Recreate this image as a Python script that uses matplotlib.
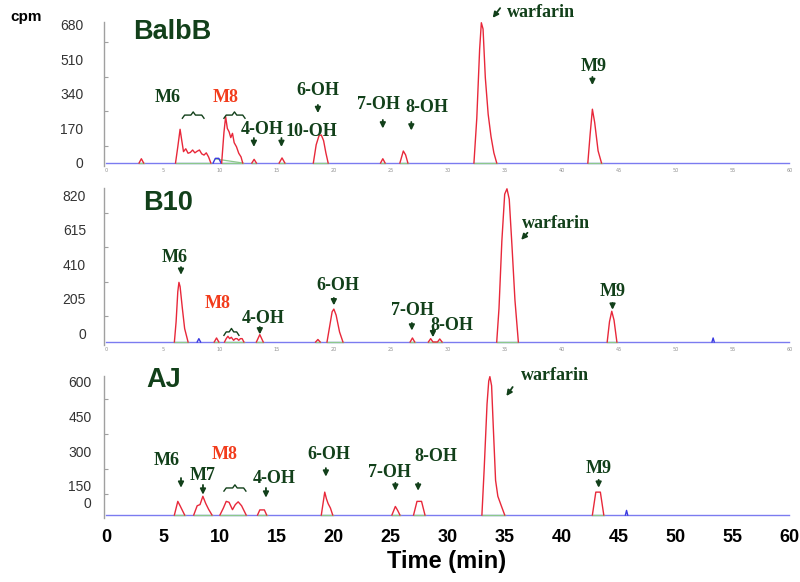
import numpy as np
import matplotlib
matplotlib.use("Agg")
import matplotlib.pyplot as plt

nan = np.nan

# --- радиохроматограммы: время (мин) / cpm, пики разделены nan ---
balbb_t = [2.9, 3.1, 3.3, nan,
           6.1, 6.3, 6.5, 6.65, 6.8, 7.0, 7.2, 7.4, 7.6, 7.8, 8.0, 8.2, 8.4, 8.6, 8.8, 9.0, 9.2, nan,
           10.15, 10.35, 10.5, 10.65, 10.8, 10.95, 11.1, 11.25, 11.45, 11.65, 11.85, 12.0, nan,
           12.8, 13.0, 13.2, nan,
           15.2, 15.45, 15.7, nan,
           18.2, 18.45, 18.7, 18.9, 19.1, 19.3, 19.5, nan,
           24.1, 24.3, 24.5, nan,
           25.8, 26.1, 26.3, 26.5, nan,
           32.3, 32.55, 32.8, 32.95, 33.1, 33.3, 33.55, 33.8, 34.05, 34.3, nan,
           42.3, 42.5, 42.7, 42.9, 43.2, 43.5]
balbb_cpm = [0, 21, 0, nan,
             0, 80, 166, 110, 56, 70, 48, 52, 64, 50, 58, 64, 45, 39, 50, 30, 0, nan,
             0, 150, 228, 170, 154, 125, 146, 100, 80, 48, 30, 0, nan,
             0, 18, 0, nan,
             0, 25, 0, nan,
             0, 90, 135, 138, 110, 50, 0, nan,
             0, 21, 0, nan,
             0, 59, 40, 0, nan,
             0, 220, 560, 691, 660, 420, 240, 130, 50, 0, nan,
             0, 140, 265, 200, 60, 0]
balbb_blue_t = [9.4, 9.6, 9.9, 10.1]
balbb_blue_cpm = [0, 23, 23, 0]
balbb_green_t = [9.6, 12.0]
balbb_green_cpm = [20, 0]

b10_t = [6.0, 6.15, 6.3, 6.4, 6.5, 6.7, 6.9, 7.2, nan,
         9.5, 9.7, 9.9, nan,
         10.4, 10.55, 10.7, 10.85, 11.0, 11.2, 11.35, 11.5, 11.65, 11.8, 11.95, 12.1, nan,
         13.2, 13.5, 13.8, nan,
         18.4, 18.6, 18.8, nan,
         19.4, 19.6, 19.85, 20.0, 20.2, 20.5, 20.8, nan,
         26.7, 26.9, 27.1, nan,
         28.3, 28.5, 28.7, 29.1, 29.3, 29.5, nan,
         34.3, 34.5, 34.75, 35.0, 35.2, 35.4, 35.65, 35.9, 36.2, nan,
         44.0, 44.2, 44.4, 44.6, 44.85]
b10_cpm = [0, 120, 300, 355, 330, 200, 80, 0, nan,
           0, 24, 0, nan,
           0, 20, 34, 20, 28, 10, 20, 20, 10, 20, 20, 0, nan,
           0, 44, 0, nan,
           0, 15, 0, nan,
           0, 80, 180, 196, 160, 60, 0, nan,
           0, 24, 0, nan,
           0, 20, 0, 0, 18, 0, nan,
           0, 200, 600, 880, 912, 850, 560, 250, 0, nan,
           0, 120, 183, 130, 0]
b10_blue_t = [8.0, 8.15, 8.3, nan, 53.2, 53.3, 53.4]
b10_blue_cpm = [0, 20, 0, nan, 0, 24, 0]

aj_t = [6.0, 6.3, 6.5, 6.9, nan,
        7.7, 8.0, 8.25, 8.5, 8.75, 9.0, 9.3, nan,
        10.0, 10.3, 10.55, 10.8, 11.1, 11.35, 11.6, 11.9, 12.3, nan,
        13.3, 13.5, 13.9, 14.1, nan,
        18.9, 19.2, 19.35, 19.5, 19.7, 19.9, nan,
        25.1, 25.4, 25.6, 25.8, nan,
        27.0, 27.3, 27.7, 28.0, nan,
        33.0, 33.2, 33.45, 33.6, 33.7, 33.85, 34.0, 34.2, 34.4, 34.7, 35.0, nan,
        42.7, 43.0, 43.4, 43.7]
aj_cpm = [0, 59, 40, 0, nan,
          0, 40, 45, 81, 50, 25, 0, nan,
          0, 30, 59, 55, 23, 45, 57, 40, 0, nan,
          0, 22, 22, 0, nan,
          0, 99, 70, 49, 30, 0, nan,
          0, 37, 20, 0, nan,
          0, 59, 59, 0, nan,
          0, 200, 480, 580, 599, 560, 380, 150, 81, 40, 0, nan,
          0, 99, 99, 0]
aj_blue_t = [45.6, 45.7, 45.8]
aj_blue_cpm = [0, 20, 0]

# подписи пиков: текст, x, y текста, стрелка (x0, y0 -> x1, y1) или None
balbb_labels = [
    ("M6", 5.44, 325, None),
    ("M8", 10.53, 325, None),
    ("4-OH", 13.7, 167, (12.98, 123, 12.98, 79)),
    ("10-OH", 18.07, 153, (15.4, 123, 15.4, 79)),
    ("6-OH", 18.6, 355, (18.6, 286, 18.6, 246)),
    ("7-OH", 23.9, 286, (24.3, 212, 24.3, 170)),
    ("8-OH", 28.2, 271, (26.8, 202, 26.8, 160)),
    ("M9", 42.8, 473, (42.7, 424, 42.7, 384)),
]
b10_labels = [
    ("M6", 6.05, 500, (6.58, 446, 6.58, 400)),
    ("M8", 9.82, 232, None),
    ("4-OH", 13.77, 137, (13.5, 89, 13.5, 45)),
    ("6-OH", 20.35, 339, (20.0, 262, 20.0, 218)),
    ("7-OH", 26.9, 190, (26.85, 113, 26.85, 68)),
    ("8-OH", 30.35, 101, (28.7, 83, 28.7, 28)),
    ("M9", 44.47, 298, (44.47, 232, 44.47, 192)),
]
aj_labels = [
    ("M6", 5.35, 234, (6.58, 160, 6.58, 118)),
    ("M7", 8.51, 173, (8.51, 130, 8.51, 88)),
    ("M8", 10.44, 260, None),
    ("4-OH", 14.74, 160, (14.04, 117, 14.04, 75)),
    ("6-OH", 19.56, 260, (19.3, 203, 19.3, 166)),
    ("7-OH", 24.9, 182, (25.4, 139, 25.4, 105)),
    ("8-OH", 29.0, 255, (27.4, 139, 27.4, 105)),
    ("M9", 43.25, 203, (43.25, 152, 43.25, 118)),
]
# warfarin: x, y текста (левый край) и стрелка
balbb_warf = (35.2, 739, (34.6, 763, 33.95, 715))
b10_warf = (36.5, 708, (37.0, 650, 36.45, 608))
aj_warf = (36.4, 606, (35.7, 554, 35.15, 515))
# фигурные скобки над группами пиков: x0, x1, y
balbb_braces = [(6.7, 8.6, 236), (10.35, 12.2, 236)]
b10_braces = [(10.35, 11.67, 60)]
aj_braces = [(10.35, 12.28, 117)]

balbb_yticks = [0, 170, 340, 510, 680]
b10_yticks = [0, 205, 410, 615, 820]
aj_yticks = [0, 150, 300, 450, 600]
time_ticks = list(range(0, 61, 5))

RED = "#e8283a"
BLUE = "#7b7bf0"
GREEN_LINE = "#8cc88c"
DKGREEN = "#12401a"
M8_RED = "#f23c1c"
SERIF = "Liberation Serif"
SANS = "Liberation Sans"

W, H = 800, 582
fig = plt.figure(figsize=(W / 100, H / 100), dpi=100)

panels = [
    # name, t, cpm, blue, green, labels, warf, braces, ticks, tick pos, rect(px top,bottom), ylim, pad, title pos
    ("BalbB", balbb_t, balbb_cpm, (balbb_blue_t, balbb_blue_cpm), (balbb_green_t, balbb_green_cpm),
     balbb_labels, balbb_warf, balbb_braces, balbb_yticks, balbb_yticks,
     (22, 166), (-14.8, 694.6), 15, (2.37, 645)),
    ("B10", b10_t, b10_cpm, (b10_blue_t, b10_blue_cpm), None,
     b10_labels, b10_warf, b10_braces, b10_yticks, [v + 52 for v in b10_yticks],
     (188, 345), (-17.9, 916.7), 13, (3.25, 827)),
    ("AJ", aj_t, aj_cpm, (aj_blue_t, aj_blue_cpm), None,
     aj_labels, aj_warf, aj_braces, aj_yticks, [52] + [v - 24 for v in aj_yticks[1:]],
     (376, 518), (-13, 601.7), 9, (3.5, 584)),
]

for i, (name, t, cpm, blue, green, labels, warf, braces, yt, ytpos, (top, bot), ylim, pad, tpos) in enumerate(panels):
    ax = fig.add_axes([104 / W, 1 - bot / H, 686 / W, (bot - top) / H])
    ax.set_xlim(-0.18, 60.05)
    ax.set_ylim(*ylim)
    for s in ["top", "right", "bottom"]:
        ax.spines[s].set_visible(False)
    ax.spines["left"].set_color("#a0a0a0")
    ax.spines["left"].set_linewidth(1.0)

    # базовая линия
    ax.plot([0, 60], [0, 0], color=BLUE, lw=1.0, zorder=2, clip_on=False)
    t_arr = np.array(t, dtype=float)
    c_arr = np.array(cpm, dtype=float)
    breaks = np.where(np.isnan(t_arr))[0]
    starts = np.r_[0, breaks + 1]
    ends = np.r_[breaks, len(t_arr)]
    for s0, e0 in zip(starts, ends):
        ax.plot([t_arr[s0], t_arr[e0 - 1]], [0, 0], color=GREEN_LINE, lw=1.0, zorder=3)
    if green is not None:
        ax.plot(green[0], green[1], color=GREEN_LINE, lw=0.9, zorder=3)
    ax.plot(blue[0], blue[1], color="#3a3ae0", lw=1.0, zorder=3)
    ax.plot(t_arr, c_arr, color=RED, lw=1.0, zorder=4, clip_on=False)

    # оси
    ax.set_yticks(ytpos)
    ax.set_yticklabels([str(v) for v in yt], fontsize=10, family=SANS, color="#333333")
    ax.tick_params(axis="y", length=0, pad=pad)
    mids = [(a + b) / 2 for a, b in zip(ytpos[:-1], ytpos[1:])]
    ax.set_yticks(mids, minor=True)
    ax.tick_params(axis="y", which="minor", direction="in", length=3, color="#a0a0a0", width=0.8)

    ax.set_xticks(time_ticks)
    if i < 2:
        ax.set_xticklabels([str(v) for v in time_ticks], fontsize=3.5, color="#909090")
        ax.tick_params(axis="x", length=0, pad=1.5)
    else:
        ax.set_xticklabels([str(v) for v in time_ticks], fontsize=13, fontweight="bold", family=SANS)
        ax.tick_params(axis="x", length=0, pad=8)
        ax.set_xlabel("Time (min)", fontsize=17, fontweight="bold", family=SANS, labelpad=3)

    ax.text(tpos[0], tpos[1], name, fontsize=19.5, fontweight="bold", family=SANS,
            color=DKGREEN, ha="left", va="center")

    # подписи пиков
    for lab, tx, ty, arr in labels:
        col = M8_RED if lab == "M8" else DKGREEN
        ax.text(tx, ty, lab, fontsize=13, fontweight="bold", family=SERIF, color=col,
                ha="center", va="center", zorder=6, clip_on=False)
        if arr is not None:
            ax.annotate("", xy=(arr[2], arr[3]), xytext=(arr[0], arr[1]),
                        arrowprops=dict(arrowstyle="-|>", color=DKGREEN, lw=1.3, mutation_scale=8,
                                        shrinkA=0, shrinkB=0),
                        annotation_clip=False)
    wx, wy, warr = warf
    ax.text(wx, wy, "warfarin", fontsize=13, fontweight="bold", family=SERIF, color=DKGREEN,
            ha="left", va="center", clip_on=False)
    ax.annotate("", xy=(warr[2], warr[3]), xytext=(warr[0], warr[1]),
                arrowprops=dict(arrowstyle="-|>", color=DKGREEN, lw=1.3, mutation_scale=8,
                                shrinkA=0, shrinkB=0),
                annotation_clip=False)

    # скобки
    h = 0.022 * (ylim[1] - ylim[0])
    for x0, x1, yb in braces:
        xm = (x0 + x1) / 2
        c = 0.2
        bx = [x0, x0 + c, xm - c, xm, xm + c, x1 - c, x1]
        by = [yb - h, yb, yb, yb + h, yb, yb, yb - h]
        ax.plot(bx, by, color=DKGREEN, lw=1.0, zorder=6, clip_on=False)

fig.text(10 / W, 1 - 17 / H, "cpm", fontsize=11, fontweight="bold", family=SANS,
         ha="left", va="center")

fig.savefig("out.png", dpi=100)
